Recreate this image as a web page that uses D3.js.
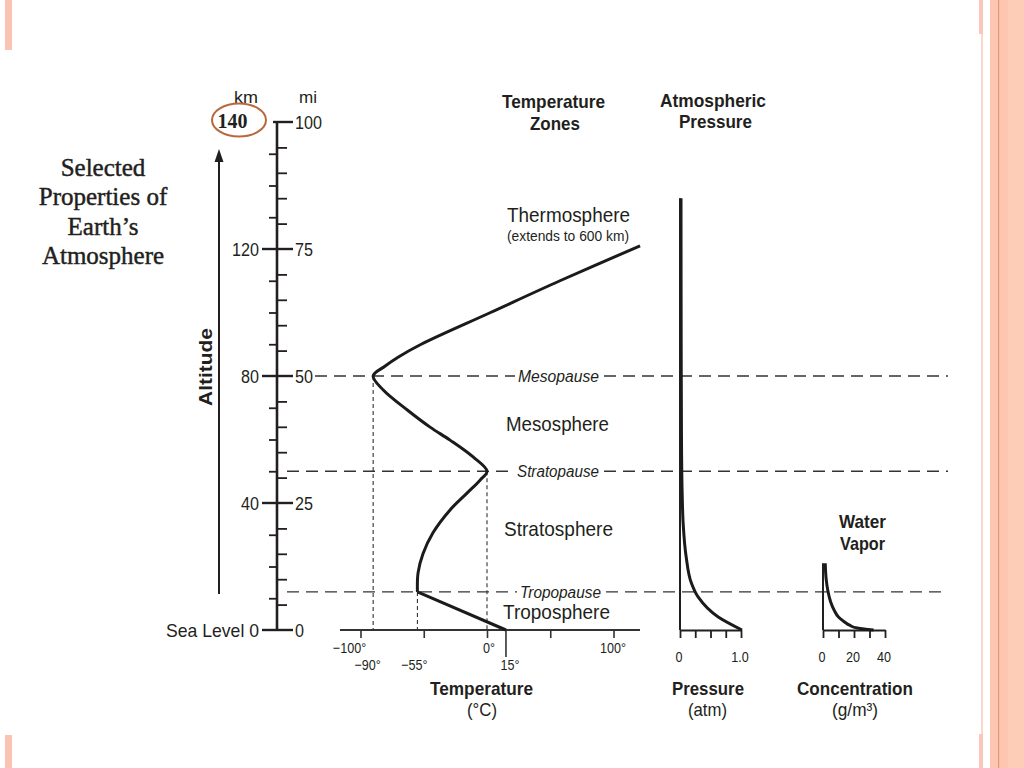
<!DOCTYPE html>
<html><head><meta charset="utf-8">
<script src="https://cdn.jsdelivr.net/npm/d3@7"></script>
<style>body{margin:0;background:#fff}svg{display:block}</style>
</head><body><script>
// ---------------- data ----------------
const altKmTicks = [0, 40, 80, 120];
const altKmLabels = ["Sea Level 0", "40", "80", "120"];
const altMiTicks = [0, 25, 50, 75, 100];
const altKmMinor = [10, 20, 30, 50, 60, 70, 90, 100, 110, 130, 140, 150];
const altMiMinor = [5, 10, 15, 20, 30, 35, 40, 45, 55, 60, 65, 70, 80, 85, 90, 95];
const correctedTop = "140";
const tempTicks = [-100, -50, 0, 50, 100];
const tempLabelsTop = [-100, 0, 100];
const tempLabelsBottom = [-90, -55, 15];
const tempAltKm = [0, 12, 18, 24, 30.6, 37.8, 43.1, 47.2, 50, 54.5, 59.8, 63.9, 69.3, 75.6, 80, 83, 86, 90, 100, 110, 121];
const tempC     = [15, -55, -54.5, -50.6, -42.7, -29.2, -15.8, -5.5, 0, -11, -29.2, -45, -63, -82, -90, -81, -70, -52, 2.8, 57.7, 121];
const pauseNames = ["Tropopause", "Stratopause", "Mesopause"];
const pauseKm = [12, 50, 80];
const pauseTempC = [-55, 0, -90];
const zoneNames = ["Troposphere", "Stratosphere", "Mesosphere", "Thermosphere"];
const pressureAltKm = [0, 4.1, 10.4, 14.8, 23, 33.7, 44, 60, 90, 136];
const pressureAtm   = [1.0, 0.61, 0.28, 0.17, 0.085, 0.035, 0.018, 0.008, 0.003, 0.0];
const pressureTicks = [0, 0.25, 0.5, 0.75, 1.0];
const pressureLabels = [0, 1.0];
const waterAltKm = [0, 0.3, 0.6, 1.5, 2.6, 4, 6.3, 9, 12.6, 16, 21];
const waterConc  = [32, 26, 21.5, 16.5, 13, 9.5, 6.5, 4.2, 2.4, 1.4, 0.8];
const waterTicks = [0, 10, 20, 30, 40];
const waterLabels = [0, 20, 40];

// ---------------- setup ----------------
const W = 1024, H = 768;
const INK = "#231f20";
const SANS = "'Liberation Sans', Arial, sans-serif";
const SERIF = "'Liberation Serif', 'Times New Roman', serif";
const svg = d3.select("body").append("svg").attr("width", W).attr("height", H)
  .style("font-family", SANS);

// decorative slide borders
function rect(x, y, w, h, c) { svg.append("rect").attr("x", x).attr("y", y).attr("width", w).attr("height", h).attr("fill", c); }
rect(5, 0, 7, 50, "#fbc3b4"); rect(5, 735, 7, 33, "#fbc3b4");
rect(979, 0, 4, 34, "#f9c8ba"); rect(981, 34, 2, 700, "#fbd8cb"); rect(979, 734, 4, 34, "#f9c8ba");
rect(990, 0, 18, H, "#fcc6b0"); rect(1008, 0, 16, H, "#fdcdb8"); rect(998, 0, 1.2, H, "#e39a7c");

// scales
const y = d3.scaleLinear().domain([0, 160]).range([630, 122]);
const yMi = d3.scaleLinear().domain([0, 100]).range([630, 122]);
const xT = d3.scaleLinear().domain([-100, 100]).range([360.5, 613.5]);
const xP = d3.scaleLinear().domain([0, 1]).range([680, 741]);
const xW = d3.scaleLinear().domain([0, 40]).range([823, 885]);

function label(x, yy, txt, o) {
  const t = svg.append("text").attr("x", x).attr("y", yy).text(txt)
    .attr("fill", INK).attr("font-size", o.size)
    .attr("font-weight", o.weight || "normal")
    .attr("font-style", o.style || "normal")
    .attr("text-anchor", o.anchor || "start");
  if (o.family) t.attr("font-family", o.family);
  if (o.stroke) t.attr("stroke", INK).attr("stroke-width", o.stroke);
  if (o.w) t.attr("textLength", o.w).attr("lengthAdjust", o.adjust || "spacingAndGlyphs");
  if (o.sx) t.attr("x", 0).attr("y", 0).attr("transform", `translate(${x},${yy}) scale(${o.sx},1)`);
  return t;
}

// ---------------- title ----------------
["Selected", "Properties of", "Earth\u2019s", "Atmosphere"].forEach((s, i) =>
  label(103, [176, 205, 235, 264][i], s, { size: 25, anchor: "middle", family: SERIF, stroke: 0.45 }));

// ---------------- altitude axis ----------------
const AX = 277;
svg.append("line").attr("x1", AX).attr("x2", AX).attr("y1", yMi(100)).attr("y2", y(0))
  .attr("stroke", INK).attr("stroke-width", 2.6);
const gKm = svg.append("g").attr("transform", `translate(${AX},0)`)
  .call(d3.axisLeft(y).tickValues(altKmMinor).tickSize(8).tickFormat(""));
const gMi = svg.append("g").attr("transform", `translate(${AX},0)`)
  .call(d3.axisRight(yMi).tickValues(altMiMinor).tickSize(10).tickFormat(""));
[gKm, gMi].forEach(g => { g.select(".domain").remove(); g.selectAll("line").attr("stroke", INK).attr("stroke-width", 1.8); });
altKmTicks.forEach(v => svg.append("line").attr("x1", 262).attr("x2", 293).attr("y1", y(v)).attr("y2", y(v)).attr("stroke", INK).attr("stroke-width", 2.4));
svg.append("line").attr("x1", 273).attr("x2", 293).attr("y1", yMi(100)).attr("y2", yMi(100)).attr("stroke", INK).attr("stroke-width", 2.4);

altKmTicks.forEach((v, i) => {
  if (i === 0) label(259, y(v) + 7, altKmLabels[i], { size: 19, anchor: "end", w: 93 });
  else label(259, y(v) + 7, altKmLabels[i], { size: 19, anchor: "end", sx: 0.85 });
});
altMiTicks.forEach(v => label(295, yMi(v) + 7, String(v), { size: 19, sx: 0.85 }));
label(234, 103, "km", { size: 17, w: 24 });
label(299, 103, "mi", { size: 17, w: 18 });

// corrected top value in circle
svg.append("ellipse").attr("cx", 239).attr("cy", 120).attr("rx", 27).attr("ry", 16.5)
  .attr("fill", "none").attr("stroke", "#b8683a").attr("stroke-width", 2);
label(232.5, 127.5, correctedTop, { size: 20, weight: "bold", anchor: "middle", family: SERIF });

// altitude arrow
svg.append("line").attr("x1", 219).attr("x2", 219).attr("y1", 594).attr("y2", 160).attr("stroke", INK).attr("stroke-width", 2);
svg.append("path").attr("d", "M219,149 L214.5,162 L223.5,162 Z").attr("fill", INK);
label(0, 0, "Altitude", { size: 18, weight: "bold", anchor: "middle", w: 78 })
  .attr("transform", "translate(212,367) rotate(-90)");

// ---------------- layer boundaries ----------------
const pauseStart = [287, 287, 315];
const pauseLabelX = [520, 517, 518];
const pauseLabelW = [81, 82, 81];
pauseKm.forEach((km, i) => {
  const yy = y(km);
  const lx = pauseLabelX[i], rx = lx + pauseLabelW[i];
  [[pauseStart[i], lx - 3], [rx + 5, 948]].forEach(([a, b]) =>
    svg.append("line").attr("x1", a).attr("x2", b).attr("y1", yy).attr("y2", yy)
      .attr("stroke", "#333").attr("stroke-width", 1.4).attr("stroke-dasharray", "12,7"));
  label(lx, yy + 6, pauseNames[i], { size: 16, style: "italic", w: pauseLabelW[i] });
  svg.append("line").attr("x1", xT(pauseTempC[i])).attr("x2", xT(pauseTempC[i]))
    .attr("y1", yy).attr("y2", y(0)).attr("stroke", "#333").attr("stroke-width", 1.1).attr("stroke-dasharray", "4,3");
});

// ---------------- temperature axis ----------------
svg.append("line").attr("x1", 340).attr("x2", 640).attr("y1", y(0)).attr("y2", y(0)).attr("stroke", "#333").attr("stroke-width", 2);
const gT = svg.append("g").attr("transform", `translate(0,${y(0)})`)
  .call(d3.axisBottom(xT).tickValues(tempTicks).tickSize(8).tickFormat(""));
gT.select(".domain").remove();
gT.selectAll("line").attr("stroke", "#333").attr("stroke-width", 1.6);
svg.append("line").attr("x1", xT(15)).attr("x2", xT(15)).attr("y1", y(0)).attr("y2", 657).attr("stroke", "#333").attr("stroke-width", 1.6);
const fmtT = v => (v < 0 ? "\u2212" + Math.abs(v) : String(v)) + "\u00b0";
const tdx = { "-100": -11, "0": 2, "100": -0.5, "-90": -5.5, "-55": -3, "15": 4 };
tempLabelsTop.forEach(v => label(xT(v) + tdx[v], 653, fmtT(v), { size: 15, anchor: "middle", sx: 0.84 }));
tempLabelsBottom.forEach(v => label(xT(v) + tdx[v], 670, fmtT(v), { size: 15, anchor: "middle", sx: 0.84 }));
label(430, 695, "Temperature", { size: 19, weight: "bold", w: 103 });
label(467, 716, "(\u00b0C)", { size: 19, w: 30 });

// temperature profile
const tPts = tempAltKm.map((a, i) => [xT(tempC[i]), y(a)]);
svg.append("path").attr("d", d3.line()(tPts.slice(0, 2)))
  .attr("fill", "none").attr("stroke", "#1b1b1b").attr("stroke-width", 3);
svg.append("path").attr("d", d3.line().curve(d3.curveCatmullRom.alpha(0.5))(tPts.slice(1)))
  .attr("fill", "none").attr("stroke", "#1b1b1b").attr("stroke-width", 3).attr("stroke-linejoin", "round");

// zone labels
label(507, 222, zoneNames[3], { size: 21, w: 123 });
label(507, 241, "(extends to 600 km)", { size: 14, w: 122 });
label(506, 431, zoneNames[2], { size: 21, w: 103 });
label(504, 536, zoneNames[1], { size: 21, w: 109 });
label(503, 619, zoneNames[0], { size: 21, w: 107 });

// headers
label(502, 108, "Temperature", { size: 19, weight: "bold", w: 103 });
label(530, 130, "Zones", { size: 19, weight: "bold", w: 50 });
label(660, 107, "Atmospheric", { size: 19, weight: "bold", w: 106 });
label(679, 128, "Pressure", { size: 19, weight: "bold", w: 73 });

// ---------------- pressure ----------------
svg.append("line").attr("x1", xP(0)).attr("x2", xP(0)).attr("y1", y(pressureAltKm[pressureAltKm.length - 1])).attr("y2", y(0))
  .attr("stroke", INK).attr("stroke-width", 2);
const gP = svg.append("g").attr("transform", `translate(0,${y(0)})`)
  .call(d3.axisBottom(xP).tickValues(pressureTicks).tickSizeInner(8).tickSizeOuter(0).tickFormat(""));
gP.select(".domain").attr("stroke", INK).attr("stroke-width", 2.2);
gP.selectAll("line").attr("stroke", INK).attr("stroke-width", 1.8);
svg.append("path")
  .attr("d", d3.line().curve(d3.curveMonotoneY)(pressureAltKm.map((a, i) => [xP(pressureAtm[i]) + 1, y(a)])))
  .attr("fill", "none").attr("stroke", "#1b1b1b").attr("stroke-width", 3);
pressureLabels.forEach(v => label(xP(v) - 1, 662, v === 0 ? "0" : v.toFixed(1), { size: 15, anchor: "middle", sx: 0.84 }));
label(672, 695, "Pressure", { size: 19, weight: "bold", w: 72 });
label(688, 716, "(atm)", { size: 19, w: 39 });

// ---------------- water vapor ----------------
svg.append("line").attr("x1", xW(0)).attr("x2", xW(0)).attr("y1", y(waterAltKm[waterAltKm.length - 1])).attr("y2", y(0))
  .attr("stroke", INK).attr("stroke-width", 2);
const gW = svg.append("g").attr("transform", `translate(0,${y(0)})`)
  .call(d3.axisBottom(xW).tickValues(waterTicks).tickSizeInner(8).tickSizeOuter(0).tickFormat(""));
gW.select(".domain").attr("stroke", INK).attr("stroke-width", 2.2);
gW.selectAll("line").attr("stroke", INK).attr("stroke-width", 1.8);
svg.append("path")
  .attr("d", d3.line().curve(d3.curveMonotoneY)(waterAltKm.map((a, i) => [xW(waterConc[i]) + 1, y(a)])))
  .attr("fill", "none").attr("stroke", "#1b1b1b").attr("stroke-width", 3);
waterLabels.forEach(v => label(xW(v) - 1, 662, String(v), { size: 15, anchor: "middle", sx: 0.84 }));
label(839, 528, "Water", { size: 19, weight: "bold", w: 47 });
label(840, 550, "Vapor", { size: 19, weight: "bold", w: 45 });
label(797, 695, "Concentration", { size: 19, weight: "bold", w: 116 });
label(832, 716, "(g/m\u00b3)", { size: 19, w: 46 });
</script></body></html>
